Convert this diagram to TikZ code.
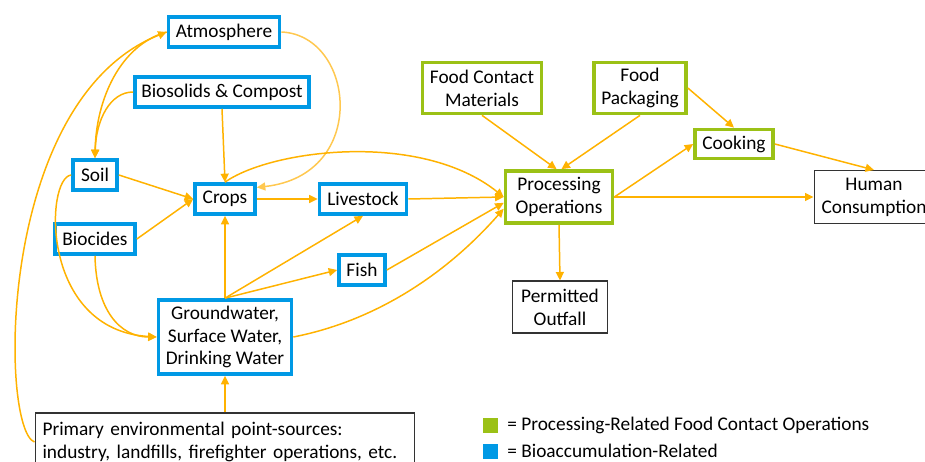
\documentclass[tikz,border=0pt]{standalone}
\usepackage{fontspec}
\setmainfont{Carlito}
\usetikzlibrary{arrows.meta}
\definecolor{bioblue}{RGB}{0,153,229}
\definecolor{procgreen}{RGB}{155,193,22}
\definecolor{flowamber}{RGB}{255,178,0}
\definecolor{airamber}{RGB}{255,200,80}
\tikzset{
  box/.style = {rectangle, align=center, inner sep=1pt, font=\fontsize{11}{13}\selectfont, minimum height=0.6cm},
  bnode/.style = {box, draw=bioblue, line width=2.1pt},
  gnode/.style = {box, draw=procgreen, line width=2.1pt},
  knode/.style = {box, draw=black!80, line width=0.6pt},
  keynode/.style = {rectangle, inner sep=0pt, minimum width=0.3cm, minimum height=0.3cm},
  keytext/.style = {anchor=west, inner sep=0pt, font=\fontsize{11}{13}\selectfont},
  flow/.style = {draw=flowamber, line width=0.85pt, -{Triangle[length=0.17cm, width=0.16cm]}},
}

\begin{document}
\begin{tikzpicture}[x=0.02cm, y=-0.02cm]
\useasboundingbox (0,0) rectangle (925,462);
\node [bnode, minimum width=2.22cm] (atm) at (224,32) {Atmosphere};
\node [bnode, minimum width=3.48cm] (bio) at (222,92) {Biosolids \& Compost};
\node [bnode, minimum width=0.88cm] (soil) at (95,175) {Soil};
\node [bnode, minimum width=1.2cm] (crops) at (225,199) {Crops};
\node [bnode, minimum width=1.74cm] (live) at (363,199) {Livestock};
\node [bnode, minimum width=1.6cm] (biocid) at (95,239) {Biocides};
\node [bnode, minimum width=0.92cm] (fish) at (362,270) {Fish};
\node [bnode, minimum width=2.66cm, minimum height=1.48cm] (water) at (225,337) {Groundwater,\\Surface Water,\\Drinking Water};
\node [knode, minimum width=7.6cm, minimum height=1.16cm, text width=7.3cm, align=left, inner xsep=0.15cm] (prim) at (225,442)
  {Primary environmental point-sources:\\industry, landfills, firefighter operations, etc.};
\node [gnode, minimum width=2.38cm, minimum height=1.02cm] (fcm) at (482,88) {Food Contact\\Materials};
\node [gnode, minimum width=1.84cm, minimum height=1.02cm] (fpk) at (640,88) {Food\\Packaging};
\node [gnode, minimum width=2.14cm, minimum height=1.04cm] (proc) at (559,197) {Processing\\Operations};
\node [gnode, minimum width=1.56cm, minimum height=0.58cm] (cook) at (734,144) {Cooking};
\node [knode, minimum width=2.4cm, minimum height=1.06cm] (hum) at (874,197) {Human\\Consumption};
\node [knode, minimum width=1.9cm, minimum height=1.04cm] (out) at (560,307) {Permitted\\Outfall};
\node [keynode, fill=procgreen] (keyg) at (490,425) {};
\node [keynode, fill=bioblue] (keyb) at (490,451) {};
\node [keytext] (keygtxt) at (507,425) {= Processing-Related Food Contact Operations};
\node [keytext] (keybtxt) at (507,451) {= Bioaccumulation-Related};

\draw [flow] (prim.west) .. controls (0,430) and (-5,100) .. (atm.west);
\draw [flow] (atm.west) .. controls (120,45) and (96,100) .. (soil.north);
\draw [flow] (bio.west) .. controls (110,92) and (96,120) .. (soil.north);
\draw [flow] (soil.west) .. controls (45,178) and (40,330) .. (water.west);
\draw [flow] (biocid.south) .. controls (96,310) and (120,337) .. (water.west);
\draw [flow] (soil.east) -- (crops.west);
\draw [flow] (biocid.east) -- (crops.west);
\draw [flow] (bio.south) -- (crops.north);
\draw [flow, draw=airamber] (atm.east) .. controls (355,35) and (370,175) .. (crops.20);
\draw [flow] (crops.north) .. controls (270,150) and (420,130) .. (proc.west);
\draw [flow] (crops.east) -- (live.west);
\draw [flow] (live.east) -- (proc.west);
\draw [flow] (water.north) -- (crops.south);
\draw [flow] (water.north) -- (live.south);
\draw [flow] (water.north) -- (fish.west);
\draw [flow] (fish.east) -- (proc.186);
\draw [flow] (water.east) .. controls (380,320) and (450,270) .. (proc.192);
\draw [flow] (prim.north) -- (water.south);
\draw [flow] (fcm.south) -- (proc.95);
\draw [flow] (fpk.south) -- (proc.85);
\draw [flow] (fpk.east) -- (cook.north);
\draw [flow] (proc.east) -- (cook.west);
\draw [flow] (proc.east) -- (hum.west);
\draw [flow] (cook.east) -- (hum.north);
\draw [flow] (proc.south) -- (out.north);
\end{tikzpicture}
\end{document}
